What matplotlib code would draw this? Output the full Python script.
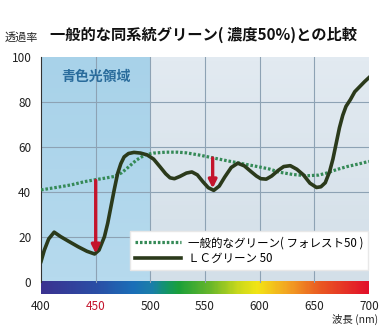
import numpy as np
import matplotlib
matplotlib.use('Agg')
import matplotlib.pyplot as plt
from matplotlib.colors import LinearSegmentedColormap

plt.rcParams['font.family'] = ['Noto Sans CJK JP', 'DejaVu Sans']

# LC green 50 transmittance
lc_nm = [400, 403, 407, 412, 418, 425, 434, 442, 449, 453, 458, 461, 464, 467, 470,
         473, 476, 480, 485, 491, 497, 503, 509, 514, 518, 522, 527, 533, 538, 543,
         548, 553, 558, 563, 568, 574, 580, 586, 592, 597, 601, 606, 611, 617, 622,
         628, 634, 640, 646, 652, 656, 660, 664, 667, 670, 673, 676, 679, 683, 687,
         692, 696, 700]
lc_val = [9, 14, 19, 22, 20, 18, 15.5, 13.5, 12.3, 14, 20, 26, 33.5, 41, 48,
          52.5, 55.5, 57, 57.5, 57.2, 56.4, 54.5, 51, 48, 46.2, 45.8, 46.8, 48.3, 48.8, 47.5,
          44.5, 41.8, 40.6, 42.5, 46.5, 50.8, 52.7, 51.5, 49, 47, 45.8, 45.6, 47, 49.5, 51.2,
          51.6, 50, 47.5, 43.8, 41.9, 42.2, 44, 49, 54.5, 61.5, 68.5, 74, 78, 81, 84.5,
          87, 89, 90.8]

# general green (forest 50)
gen_nm = [400, 410, 420, 428, 440, 449, 458, 467, 474, 480, 487, 495, 503, 514, 525,
          533, 545, 558, 570, 585, 600, 609, 618, 630, 643, 654, 662, 670, 680, 690, 700]
gen_val = [40.8, 41.6, 42.4, 43.1, 44.5, 45.3, 46, 46.8, 48.5, 51, 54, 56.4, 57.2, 57.6, 57.6,
           57.3, 56.3, 55, 53.8, 52.4, 51, 50.1, 48.7, 47.7, 47.1, 47.4, 48.4, 49.8, 51.2, 52.3, 53.5]

# red arrows: (wavelength, from, to)
arrows = [(450, 45, 12.5), (557, 55, 41.5)]

xticks = [400, 450, 500, 550, 600, 650, 700]
yticks = [0, 20, 40, 60, 80, 100]

fig = plt.figure(figsize=(3.8, 3.27), dpi=100)
ax = fig.add_axes([0.108, 0.101, 0.863, 0.725])
ax.set_xlim(400, 700)
ax.set_ylim(-5.5, 100)

# backgrounds
grad = np.linspace(0, 1, 50).reshape(-1, 1)
ax.imshow(grad, extent=(500, 700, 0, 100), aspect='auto', origin='upper',
          cmap=LinearSegmentedColormap.from_list('r', ['#e2eaf1', '#d3dfe8']), zorder=0)
ax.imshow(grad, extent=(400, 500, 0, 100), aspect='auto', origin='upper',
          cmap=LinearSegmentedColormap.from_list('l', ['#a8d2e9', '#b6daee']), zorder=0)

# spectrum band
spec = LinearSegmentedColormap.from_list('spec', [
    (0.0, '#3b3290'), (0.17, '#2a4fa6'), (0.28, '#1b6fb8'), (0.34, '#1a7fa8'),
    (0.38, '#13956a'), (0.42, '#1ba03a'), (0.52, '#6cb82a'), (0.6, '#c8d81c'),
    (0.66, '#f2e514'), (0.75, '#f3a622'), (0.85, '#ea5b22'), (1.0, '#e2102a')])
ax.imshow(np.linspace(0, 1, 300).reshape(1, -1), extent=(400, 700, -5.5, 0),
          aspect='auto', cmap=spec, zorder=1)

for x in xticks[1:-1]:
    ax.axvline(x, ymin=0.05, color='#8da2b4', lw=0.8, zorder=1)
for y in yticks[1:-1]:
    ax.axhline(y, color='#8da2b4', lw=0.8, zorder=1)

ax.plot(gen_nm, gen_val, color='#358a57', lw=2.3, linestyle=(0, (0.8, 0.6)),
        label='一般的なグリーン( フォレスト50 )', zorder=3)
ax.plot(lc_nm, lc_val, color='#2b3a1b', lw=2.6, label='ＬＣグリーン 50', zorder=4)

for x, y0, y1 in arrows:
    ax.annotate('', xy=(x, y1), xytext=(x, y0),
                arrowprops=dict(arrowstyle='-|>', color='#c4142c', lw=2.4,
                                mutation_scale=12, shrinkA=0, shrinkB=0), zorder=5)

ax.text(450, 91, '青色光領域', ha='center', va='center', fontsize=10,
        color='#2a6c9c', fontweight='bold')

for s in ['top', 'right', 'bottom']:
    ax.spines[s].set_visible(False)
ax.spines['left'].set_color('#333333')
ax.spines['left'].set_bounds(0, 100)

ax.set_xticks(xticks)
ax.set_yticks(yticks)
ax.tick_params(length=0, labelsize=8.5, colors='#222222')
ax.tick_params(axis='y', pad=7)
ax.tick_params(axis='x', pad=4)
ax.get_xticklabels()[1].set_color('#c4142c')

leg = ax.legend(loc='upper right', bbox_to_anchor=(0.998, 0.265), fontsize=8.3,
                frameon=True, fancybox=False, handlelength=4, borderaxespad=0,
                labelspacing=0.25, borderpad=0.45, handletextpad=0.6)
leg.get_frame().set_edgecolor('#e8e8e8')
leg.get_frame().set_alpha(1)
leg.set_zorder(6)

fig.text(0.013, 0.885, '透過率', fontsize=8, color='#222222', va='center')
fig.text(0.132, 0.893, '一般的な同系統グリーン( 濃度50%)との比較', fontsize=11,
         fontweight='bold', color='#111111', va='center')
fig.text(0.995, 0.022, '波長 (nm)', fontsize=7.5, color='#222222', ha='right', va='center')

fig.savefig('out.png', dpi=100)
